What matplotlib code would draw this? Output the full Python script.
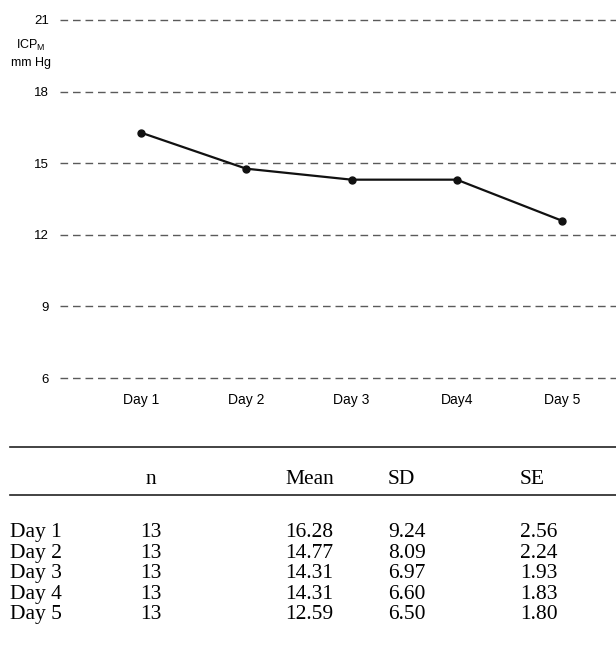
import matplotlib.pyplot as plt

# mean ICP per day
days = ['Day 1', 'Day 2', 'Day 3', 'Day4', 'Day 5']
mean_icp = [16.28, 14.77, 14.31, 14.31, 12.59]
y_ticks = [6, 9, 12, 15, 18, 21]

# table below the chart
row_labels = ['Day 1', 'Day 2', 'Day 3', 'Day 4', 'Day 5']
n_vals = ['13', '13', '13', '13', '13']
mean_vals = ['16.28', '14.77', '14.31', '14.31', '12.59']
sd_vals = ['9.24', '8.09', '6.97', '6.60', '6.50']
se_vals = ['2.56', '2.24', '1.93', '1.83', '1.80']

W, H = 616, 645
fig = plt.figure(figsize=(W / 100, H / 100), dpi=100)

# axes placed so that 21 -> y=20px and 6 -> y=378px
left = 60
ax = fig.add_axes([left / W, 1 - 390 / H, 1 - left / W, (390 - 8) / H])
x = list(range(1, len(days) + 1))
ax.plot(x, mean_icp, color='#111111', lw=1.6, marker='o', ms=5, zorder=3)
for t in y_ticks:
    ax.axhline(t, color='#5a5a5a', lw=1.0, dashes=(5.5, 3.5), zorder=1)
# x positions: day 1 at 141 px, day 5 at 562 px
step = (562 - 141) / 4
ax.set_xlim(1 - (141 - left) / step, 5 + (W - 562) / step)
ax.set_ylim(6 - 12 / 23.87, 21 + 12 / 23.87)
ax.set_xticks(x)
ax.set_xticklabels(days, fontsize=10, family='Liberation Sans')
ax.set_yticks(y_ticks)
ax.set_yticklabels([str(t) for t in y_ticks], fontsize=9.5, family='Liberation Sans')
ax.tick_params(length=0)
ax.tick_params(axis='y', pad=8)
ax.tick_params(axis='x', pad=2)
for s in ax.spines.values():
    s.set_visible(False)

fig.text(31 / W, 1 - 45 / H, r'ICP$_\mathregular{M}$', fontsize=9,
         family='Liberation Sans', ha='center', va='center')
fig.text(31 / W, 1 - 63 / H, 'mm Hg', fontsize=9,
         family='Liberation Sans', ha='center', va='center')

# table
serif = 'Liberation Serif'
fs = 15.5
fig.add_artist(plt.Line2D([10 / W, 1], [1 - 447 / H] * 2, color='#222222', lw=1.2))
fig.add_artist(plt.Line2D([10 / W, 1], [1 - 495 / H] * 2, color='#222222', lw=1.2))

col_n, col_mean, col_sd, col_se = 151, 285, 388, 520

hdr_y = 1 - 484 / H
fig.text(col_n / W, hdr_y, 'n', fontsize=fs, family=serif, ha='center', va='baseline')
fig.text(col_mean / W, hdr_y, 'Mean', fontsize=fs, family=serif, ha='left', va='baseline')
fig.text(col_sd / W, hdr_y, 'SD', fontsize=fs, family=serif, ha='left', va='baseline')
fig.text(col_se / W, hdr_y, 'SE', fontsize=fs, family=serif, ha='left', va='baseline')

row_px = [537, 558, 578, 599, 619]
for i in range(len(row_labels)):
    ry = 1 - row_px[i] / H
    fig.text(10 / W, ry, row_labels[i], fontsize=fs, family=serif, ha='left', va='baseline')
    fig.text(col_n / W, ry, n_vals[i], fontsize=fs, family=serif, ha='center', va='baseline')
    fig.text(col_mean / W, ry, mean_vals[i], fontsize=fs, family=serif, ha='left', va='baseline')
    fig.text(col_sd / W, ry, sd_vals[i], fontsize=fs, family=serif, ha='left', va='baseline')
    fig.text(col_se / W, ry, se_vals[i], fontsize=fs, family=serif, ha='left', va='baseline')

fig.savefig('out.png', dpi=100)
